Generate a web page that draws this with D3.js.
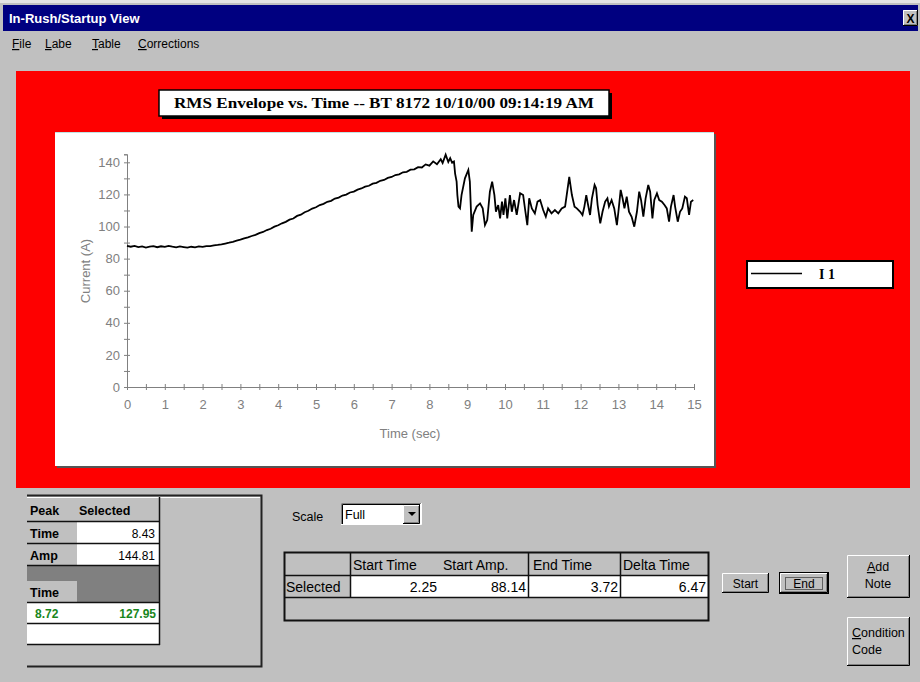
<!DOCTYPE html>
<html>
<head>
<meta charset="utf-8">
<script src="https://cdn.jsdelivr.net/npm/d3@7"></script>
<style>
body { margin: 0; background: #c0c0c0; }
svg { display: block; font-family: "Liberation Sans", Arial, sans-serif; }
</style>
</head>
<body>
<div id="app"></div>
<script>
// ----- DATA ------------------------------------//
// [time (s), current (A)]
const rmsEnvelope = [
  [0.0, 88.0], [0.1, 87.4], [0.2, 87.9], [0.3, 87.2], [0.4, 87.6], [0.5, 86.9], [0.6, 87.5],
  [0.7, 87.8], [0.8, 87.1], [0.9, 87.7], [1.0, 87.3], [1.1, 87.9], [1.2, 87.4], [1.3, 87.0],
  [1.4, 87.6], [1.5, 87.2], [1.6, 86.8], [1.7, 87.4], [1.8, 87.0], [1.9, 87.6], [2.0, 87.3],
  [2.1, 87.8], [2.2, 87.8], [2.3, 88.2], [2.4, 88.5], [2.5, 88.9], [2.6, 89.4], [2.7, 89.9],
  [2.8, 90.5], [2.9, 91.2], [3.0, 91.8], [3.1, 92.6], [3.2, 93.2], [3.3, 94.1], [3.4, 94.8],
  [3.5, 95.9], [3.6, 96.6], [3.7, 97.8], [3.8, 98.6], [3.9, 99.9], [4.0, 100.8], [4.1, 102.0],
  [4.2, 102.9], [4.3, 104.3], [4.4, 105.0], [4.5, 106.6], [4.6, 107.4], [4.7, 108.9], [4.8, 109.8],
  [4.9, 111.2], [5.0, 112.0], [5.1, 113.4], [5.2, 114.1], [5.3, 115.4], [5.4, 116.0], [5.5, 117.4],
  [5.6, 118.0], [5.7, 119.3], [5.8, 119.9], [5.9, 121.2], [6.0, 121.8], [6.1, 123.0], [6.2, 123.7],
  [6.3, 124.8], [6.4, 125.4], [6.5, 126.7], [6.6, 127.2], [6.7, 128.5], [6.8, 129.0], [6.9, 130.3],
  [7.0, 130.9], [7.1, 132.1], [7.2, 132.5], [7.3, 133.8], [7.4, 134.1], [7.5, 135.4], [7.6, 135.6],
  [7.7, 137.0], [7.8, 136.8], [7.9, 138.7], [8.0, 137.9], [8.1, 140.6], [8.2, 138.8], [8.3, 141.9],
  [8.35, 139.6], [8.43, 144.8], [8.5, 140.2], [8.55, 142.6], [8.6, 139.8], [8.65, 140.5], [8.68, 133.0],
  [8.72, 127.95], [8.74, 119.6], [8.77, 112.4], [8.81, 111.3], [8.85, 119.6], [8.94, 130.0], [9.03, 135.2],
  [9.07, 128.0], [9.12, 96.8], [9.16, 107.2], [9.25, 112.4], [9.34, 114.4], [9.41, 111.3], [9.47, 100.9],
  [9.53, 104.0], [9.60, 121.7], [9.66, 128.0], [9.72, 119.6], [9.76, 109.2], [9.82, 113.4], [9.87, 105.1],
  [9.92, 115.5], [9.96, 107.2], [10.01, 117.6], [10.06, 105.1], [10.13, 119.6], [10.18, 109.2], [10.24, 116.5],
  [10.31, 107.2], [10.40, 120.7], [10.48, 119.6], [10.54, 109.2], [10.59, 100.9], [10.64, 117.6], [10.71, 111.3],
  [10.79, 108.2], [10.86, 115.5], [10.93, 116.5], [11.01, 110.3], [11.08, 106.1], [11.14, 111.3], [11.23, 108.2],
  [11.32, 110.3], [11.41, 108.2], [11.50, 111.3], [11.59, 112.4], [11.70, 131.0], [11.77, 119.6], [11.84, 112.4],
  [11.90, 111.3], [11.99, 109.2], [12.05, 107.2], [12.10, 112.4], [12.15, 119.6], [12.19, 114.4], [12.25, 107.2],
  [12.30, 117.6], [12.37, 125.9], [12.41, 123.8], [12.45, 113.4], [12.52, 102.0], [12.58, 109.2], [12.65, 115.5],
  [12.71, 117.6], [12.75, 112.4], [12.82, 116.5], [12.89, 111.3], [12.96, 100.9], [13.00, 109.2], [13.06, 122.8],
  [13.11, 117.6], [13.16, 111.3], [13.22, 118.6], [13.28, 109.2], [13.35, 106.1], [13.42, 99.9], [13.49, 109.2],
  [13.55, 121.7], [13.60, 116.5], [13.66, 106.1], [13.72, 117.6], [13.79, 125.9], [13.84, 121.7], [13.90, 105.1],
  [13.95, 116.5], [14.02, 120.7], [14.08, 116.5], [14.15, 115.5], [14.22, 113.4], [14.28, 111.3], [14.34, 103.0],
  [14.39, 112.4], [14.46, 119.6], [14.50, 112.4], [14.57, 103.0], [14.63, 109.2], [14.69, 111.3], [14.76, 118.6],
  [14.81, 117.6], [14.87, 107.2], [14.92, 115.5], [14.98, 116.5]
];

const yTicks = [0, 20, 40, 60, 80, 100, 120, 140];
const yMinor = [10, 30, 50, 70, 90, 110, 130];
const xTicks = [0, 1, 2, 3, 4, 5, 6, 7, 8, 9, 10, 11, 12, 13, 14, 15];
const xMinor = [0.5, 1.5, 2.5, 3.5, 4.5, 5.5, 6.5, 7.5, 8.5, 9.5, 10.5, 11.5, 12.5, 13.5, 14.5];

const windowTitle = "In-Rush/Startup View";
const menuItems = ["File", "Labe", "Table", "Corrections"];
const chartTitle = "RMS Envelope vs. Time  --  BT 8172  10/10/00 09:14:19 AM";
const seriesName = "I 1";
const xLabel = "Time (sec)";
const yLabel = "Current (A)";

const peakRows = [["Time", "8.43"], ["Amp", "144.81"]];
const cursorRow = ["8.72", "127.95"];
const selColumns = ["Start Time", "Start Amp.", "End Time", "Delta Time"];
const selValues = ["2.25", "88.14", "3.72", "6.47"];
const scaleChoice = "Full";

// ----- SETUP ------------------------------------//
const W = 920, H = 682;
const svg = d3.select("#app").append("svg")
    .attr("width", W)
    .attr("height", H);

svg.append("rect").attr("width", W).attr("height", H).attr("fill", "#c0c0c0");
svg.append("rect").attr("width", W).attr("height", 3).attr("fill", "#e4e4e4");

// 3d button look
function bevel(g, x, y, w, h) {
    g.append("rect").attr("x", x).attr("y", y).attr("width", w).attr("height", h).attr("fill", "#c0c0c0");
    g.append("path").attr("d", `M${x},${y + h - 0.5}H${x + w - 0.5}V${y}`)
        .attr("stroke", "#000").attr("fill", "none");
    g.append("path").attr("d", `M${x + 1},${y + h - 1.5}H${x + w - 1.5}V${y + 1}`)
        .attr("stroke", "#808080").attr("fill", "none");
    g.append("path").attr("d", `M${x + 0.5},${y + h - 1}V${y + 0.5}H${x + w - 1}`)
        .attr("stroke", "#fff").attr("fill", "none");
}

// title bar
svg.append("rect").attr("x", 3).attr("y", 5).attr("width", 915).attr("height", 26).attr("fill", "#000080");
svg.append("text").attr("x", 9).attr("y", 23)
    .attr("fill", "#fff").style("font-weight", "bold").style("font-size", "13px")
    .text(windowTitle);
bevel(svg, 903, 10, 15, 16);
svg.append("text").attr("x", 910.5).attr("y", 22.5).attr("text-anchor", "middle")
    .style("font-weight", "bold").style("font-size", "12px").text("X");

// menu
const menuX = [12, 45, 92, 138];
menuItems.forEach((m, i) => {
    const t = svg.append("text").attr("x", menuX[i]).attr("y", 48).style("font-size", "12px").attr("fill", "#000");
    t.append("tspan").style("text-decoration", "underline").text(m[0]);
    t.append("tspan").text(m.slice(1));
});

// ----- CHART PANEL -------------------------------//
svg.append("rect").attr("x", 16).attr("y", 71).attr("width", 894).attr("height", 417).attr("fill", "#fe0000");

// title box
svg.append("rect").attr("x", 162).attr("y", 93).attr("width", 450).attr("height", 26).attr("fill", "#000");
svg.append("rect").attr("x", 159).attr("y", 90).attr("width", 450).attr("height", 26)
    .attr("fill", "#fff").attr("stroke", "#000").attr("stroke-width", 1.5);
svg.append("text").attr("x", 384).attr("y", 108).attr("text-anchor", "middle")
    .style("font-family", "'Liberation Serif', serif").style("font-weight", "bold").style("font-size", "14px")
    .attr("textLength", 420).attr("lengthAdjust", "spacingAndGlyphs")
    .text(chartTitle);

// plot area
svg.append("rect").attr("x", 57).attr("y", 134).attr("width", 659).attr("height", 334).attr("fill", "#555");
svg.append("rect").attr("x", 55).attr("y", 132).attr("width", 659).attr("height", 334).attr("fill", "#fff");
svg.append("line").attr("x1", 55).attr("x2", 714).attr("y1", 132.5).attr("y2", 132.5).attr("stroke", "#bfe3e3");

const x = d3.scaleLinear().domain([0, 15]).range([127, 694]);
const y = d3.scaleLinear().domain([0, 145]).range([387, 154.3]);

const axisColor = "#808080";

function styleAxis(g, crossX) {
    g.select(".domain").attr("stroke", axisColor);
    g.selectAll(".tick line").attr("stroke", axisColor)
        .attr(crossX ? "x1" : "y1", -3).attr(crossX ? "x2" : "y2", 3);
    g.selectAll("text").attr("fill", axisColor).style("font-size", "13px")
        .style("font-family", "'Liberation Sans', Arial, sans-serif");
}

const gx = svg.append("g").attr("transform", "translate(0,387)")
    .call(d3.axisBottom(x).tickValues(xTicks).tickFormat(d3.format("d")).tickSizeOuter(0).tickSize(3).tickPadding(10));
styleAxis(gx, false);
const gxm = svg.append("g").attr("transform", "translate(0,387)")
    .call(d3.axisBottom(x).tickValues(xMinor).tickFormat("").tickSizeOuter(0).tickSize(3));
styleAxis(gxm, false);

const gy = svg.append("g").attr("transform", "translate(127,0)")
    .call(d3.axisLeft(y).tickValues(yTicks).tickSizeOuter(0).tickSize(3).tickPadding(4));
styleAxis(gy, true);
const gym = svg.append("g").attr("transform", "translate(127,0)")
    .call(d3.axisLeft(y).tickValues(yMinor).tickFormat("").tickSizeOuter(0).tickSize(3));
styleAxis(gym, true);

svg.append("text").attr("x", 410).attr("y", 438).attr("text-anchor", "middle")
    .attr("fill", axisColor).style("font-size", "13px").text(xLabel);
svg.append("text").attr("transform", "translate(90,271) rotate(-90)").attr("text-anchor", "middle")
    .attr("fill", axisColor).style("font-size", "13px").text(yLabel);

const line = d3.line()
    .x(d => x(d[0]))
    .y(d => y(d[1]));

svg.append("path")
    .datum(rmsEnvelope)
    .attr("d", line)
    .attr("fill", "none")
    .attr("stroke", "#000")
    .attr("stroke-width", 1.8)
    .attr("stroke-linejoin", "miter");

// legend
svg.append("rect").attr("x", 747).attr("y", 261).attr("width", 146).attr("height", 27)
    .attr("fill", "#fff").attr("stroke", "#000").attr("stroke-width", 2);
svg.append("line").attr("x1", 751).attr("x2", 802).attr("y1", 273.5).attr("y2", 273.5)
    .attr("stroke", "#000").attr("stroke-width", 1.5);
svg.append("text").attr("x", 819).attr("y", 279)
    .style("font-family", "'Liberation Serif', serif").style("font-weight", "bold").style("font-size", "14px")
    .text(seriesName);

// ----- PEAK PANEL --------------------------------//
const pk = svg.append("g");
pk.append("path").attr("d", "M27,495.5H261.5V666.5H27").attr("fill", "none").attr("stroke", "#222").attr("stroke-width", 2);
pk.append("path").attr("d", "M27,497.5H260").attr("stroke", "#fff").attr("stroke-width", 1);

// header
pk.append("text").attr("x", 30).attr("y", 515).style("font-weight", "bold").style("font-size", "12.5px").text("Peak");
pk.append("text").attr("x", 79).attr("y", 515).style("font-weight", "bold").style("font-size", "12.5px").text("Selected");

peakRows.forEach((r, i) => {
    const top = 522 + i * 22;
    pk.append("rect").attr("x", 77).attr("y", top).attr("width", 82).attr("height", 21).attr("fill", "#fff");
    pk.append("text").attr("x", 30).attr("y", top + 15.5).style("font-weight", "bold").style("font-size", "12.5px").text(r[0]);
    pk.append("text").attr("x", 155).attr("y", top + 15.5).attr("text-anchor", "end").style("font-size", "12px").text(r[1]);
});
pk.append("rect").attr("x", 27).attr("y", 566).attr("width", 132).attr("height", 36).attr("fill", "#808080");
pk.append("rect").attr("x", 27).attr("y", 581).attr("width", 50).attr("height", 21).attr("fill", "#c0c0c0");
pk.append("text").attr("x", 30).attr("y", 597).style("font-weight", "bold").style("font-size", "12.5px").text("Time");
pk.append("rect").attr("x", 27).attr("y", 603).attr("width", 132).attr("height", 41).attr("fill", "#fff");
pk.append("text").attr("x", 35).attr("y", 618).attr("fill", "#18861c").style("font-weight", "bold").style("font-size", "12px").text(cursorRow[0]);
pk.append("text").attr("x", 156).attr("y", 618).attr("text-anchor", "end").attr("fill", "#18861c").style("font-weight", "bold").style("font-size", "12px").text(cursorRow[1]);
[521.5, 543.5, 565.5, 602.5, 623.5, 644.5].forEach(yy => {
    pk.append("line").attr("x1", 27).attr("x2", 160).attr("y1", yy).attr("y2", yy).attr("stroke", "#111").attr("stroke-width", 1.5);
});
pk.append("line").attr("x1", 159.5).attr("x2", 159.5).attr("y1", 497).attr("y2", 645).attr("stroke", "#111").attr("stroke-width", 1.5);

// ----- SCALE + SELECTION TABLE --------------------//
svg.append("text").attr("x", 292).attr("y", 521).style("font-size", "12.5px").text("Scale");
const dd = svg.append("g");
dd.append("rect").attr("x", 341).attr("y", 503).attr("width", 80).attr("height", 22).attr("fill", "#fff");
dd.append("path").attr("d", "M341.5,525V503.5H421").attr("stroke", "#808080").attr("fill", "none");
dd.append("path").attr("d", "M342.5,524V504.5H420").attr("stroke", "#000").attr("fill", "none");
dd.append("path").attr("d", "M341,524.5H421.5V503").attr("stroke", "#fff").attr("fill", "none");
dd.append("text").attr("x", 345).attr("y", 519).style("font-size", "12.5px").text(scaleChoice);
bevel(dd, 403, 505, 17, 19);
dd.append("path").attr("d", "M408,512H416L412,516Z").attr("fill", "#000");

const st = svg.append("g");
st.append("rect").attr("x", 350).attr("y", 576).attr("width", 358).attr("height", 21).attr("fill", "#fff");
st.append("rect").attr("x", 284.5).attr("y", 552.5).attr("width", 424).attr("height", 68)
    .attr("fill", "none").attr("stroke", "#111").attr("stroke-width", 2);
[575.5, 597.5].forEach(yy => {
    st.append("line").attr("x1", 284).attr("x2", 709).attr("y1", yy).attr("y2", yy).attr("stroke", "#111").attr("stroke-width", 1.5);
});
[350, 528, 620].forEach(xx => {
    st.append("line").attr("x1", xx + 0.5).attr("x2", xx + 0.5).attr("y1", 553).attr("y2", 597).attr("stroke", "#111").attr("stroke-width", 1.5);
});
const headX = [353, 443, 533, 623];
selColumns.forEach((c, i) => {
    st.append("text").attr("x", headX[i]).attr("y", 570).style("font-size", "14px").text(c);
});
st.append("text").attr("x", 286).attr("y", 592).style("font-size", "14px").text("Selected");
const valX = [437, 526, 618, 706];
selValues.forEach((v, i) => {
    st.append("text").attr("x", valX[i]).attr("y", 592).attr("text-anchor", "end").style("font-size", "14px").text(v);
});

// ----- BUTTONS -----------------------------------//
const bt = svg.append("g");
bevel(bt, 722, 573, 47, 20);
bt.append("text").attr("x", 745.5).attr("y", 588).attr("text-anchor", "middle").style("font-size", "12px").text("Start");
bt.append("rect").attr("x", 779.5).attr("y", 572.5).attr("width", 49).attr("height", 21).attr("fill", "none").attr("stroke", "#000");
bevel(bt, 780, 573, 48, 20);
bt.append("rect").attr("x", 785.5).attr("y", 577.5).attr("width", 37).attr("height", 12)
    .attr("fill", "none").attr("stroke", "#000").attr("stroke-dasharray", "1,1");
bt.append("text").attr("x", 804).attr("y", 588).attr("text-anchor", "middle").style("font-size", "12px").text("End");

bevel(bt, 847, 555, 63, 43);
let t1 = bt.append("text").attr("x", 878).attr("y", 571).attr("text-anchor", "middle").style("font-size", "12.5px");
t1.append("tspan").style("text-decoration", "underline").text("A");
t1.append("tspan").text("dd");
bt.append("text").attr("x", 878).attr("y", 588).attr("text-anchor", "middle").style("font-size", "12.5px").text("Note");

bevel(bt, 847, 617, 63, 49);
let t2 = bt.append("text").attr("x", 852).attr("y", 637).style("font-size", "12.5px");
t2.append("tspan").style("text-decoration", "underline").text("C");
t2.append("tspan").text("ondition");
bt.append("text").attr("x", 852).attr("y", 654).style("font-size", "12.5px").text("Code");
</script>
</body>
</html>
